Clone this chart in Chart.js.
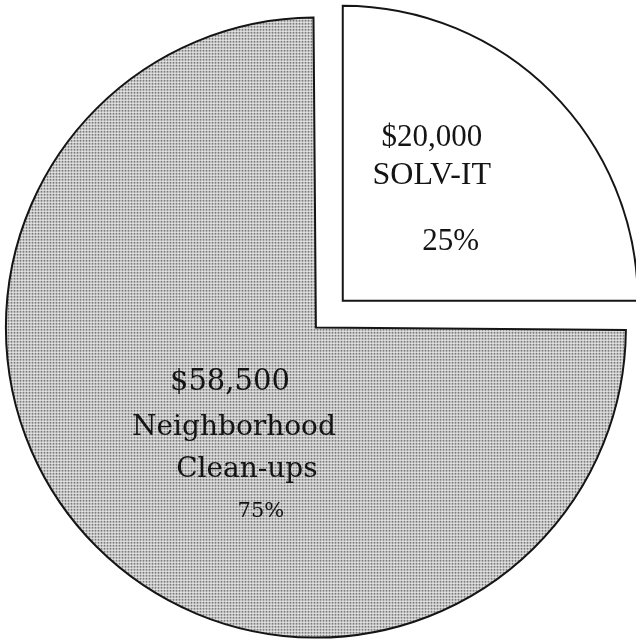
<!DOCTYPE html>
<html>
<head>
<meta charset="utf-8">
<title>Pie</title>
<script src="https://cdn.jsdelivr.net/npm/chart.js"></script>
<style>
  html, body { margin: 0; padding: 0; background: #fff; }
  #wrap { width: 636px; height: 640px; }
</style>
</head>
<body>
<div id="wrap"><canvas id="myChart" width="636" height="640"></canvas></div>
<script>
// slice data (clockwise from 12 o'clock)
const names = [['SOLV-IT'], ['Neighborhood', 'Clean-ups']];
const amounts = [20000, 58500];
const percents = [25, 75];

// dotted screen like the scanned original
function makeDots() {
    const c = document.createElement('canvas');
    c.width = 3;
    c.height = 3;
    const g = c.getContext('2d');
    g.fillStyle = '#f4f4f4';
    g.fillRect(0, 0, 3, 3);
    g.fillStyle = '#9c9c9c';
    g.fillRect(0, 0, 1, 1);
    g.fillStyle = '#7c7c7c';
    g.fillRect(1, 0, 1, 1);
    g.fillRect(0, 1, 1, 1);
    g.fillStyle = '#555555';
    g.fillRect(1, 1, 1, 1);
    return g.createPattern(c, 'repeat');
}

// text placement relative to each slice's vertex: [dx, dy, font]
const labelRows = [
    [[89, -163, '31px "Liberation Serif"'], [89, -125, '32px "Liberation Serif"'], [108, -59, '31px "Liberation Serif"']],
    [[-86, 55, '29px "DejaVu Serif"'], [-82, 100, '28px "DejaVu Serif"'], [-69, 142, '28px "DejaVu Serif"'], [-55, 184, '21px "DejaVu Serif"']]
];

const sliceLabels = {
    id: 'sliceLabels',
    afterDatasetsDraw(chart) {
        const ctx = chart.ctx;
        const meta = chart.getDatasetMeta(0);
        meta.data.forEach((arc, i) => {
            const p = arc.getProps(['x', 'y', 'startAngle', 'endAngle'], true);
            const mid = (p.startAngle + p.endAngle) / 2;
            // ArcElement translates by offset / 4
            const shift = (arc.options.offset || 0) / 4;
            const cx = p.x + Math.cos(mid) * shift;
            const cy = p.y + Math.sin(mid) * shift;
            const lines = ['$' + amounts[i].toLocaleString('en-US')].concat(names[i], [percents[i] + '%']);
            ctx.save();
            ctx.fillStyle = '#141414';
            ctx.textAlign = 'center';
            ctx.textBaseline = 'middle';
            lines.forEach((t, k) => {
                const r = labelRows[i][k];
                ctx.font = r[2];
                ctx.fillText(t, cx + r[0], cy + r[1]);
            });
            ctx.restore();
        });
    }
};

const ctx = document.getElementById('myChart');

new Chart(ctx, {
    type: 'pie',
    data: {
        labels: names.map(n => n.join(' ')),
        datasets: [{
            data: percents,
            backgroundColor: ['#ffffff', makeDots()],
            borderColor: '#151515',
            borderWidth: 2,
            borderJoinStyle: 'miter',
            // big slice gets a small offset too: it shifts down-left and grows a bit
            offset: [92, 60],
            clip: false
        }]
    },
    options: {
        responsive: false,
        animation: false,
        radius: 295,
        layout: {
            padding: { left: 17, right: 0, top: 0, bottom: 6 }
        },
        plugins: {
            legend: { display: false },
            tooltip: { enabled: false }
        }
    },
    plugins: [sliceLabels]
});
</script>
</body>
</html>
